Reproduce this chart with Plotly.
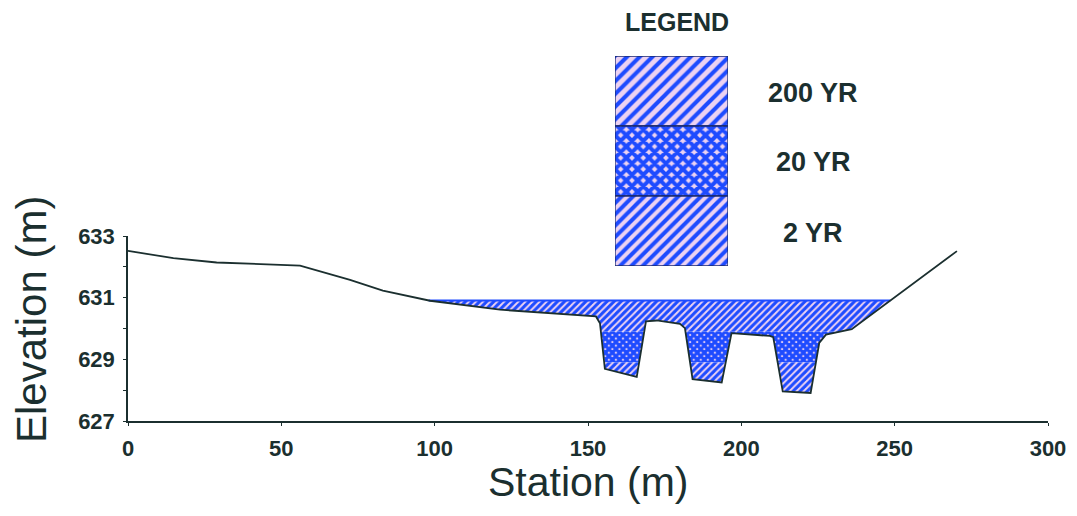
import numpy as np
import plotly.graph_objects as go

# ---------------- data ----------------
station = [0, 14.8, 28.9, 48.5, 56.1, 72.4, 83.1, 98.5, 121.3, 152.6, 153.9,
           155.5, 165.9, 168.9, 172.4, 180.0, 181.6, 184.1, 193.6, 196.8,
           209.3, 210.4, 213.5, 222.6, 225.4, 227.6, 236.0, 270.3]
elevation = [632.52, 632.28, 632.14, 632.08, 632.04, 631.58, 631.23, 630.90,
             630.61, 630.39, 630.17, 628.69, 628.43, 630.23, 630.26, 630.15,
             630.01, 628.36, 628.25, 629.85, 629.76, 629.72, 627.96, 627.91,
             629.53, 629.80, 629.98, 632.51]

flood_labels = ["200 YR", "20 YR", "2 YR"]
water_levels = [630.91, 629.90, 628.90]   # water surface elevation per flood

x_ticks = [0, 50, 100, 150, 200, 250, 300]
y_ticks = [627, 629, 631, 633]

# ---------------- styles ----------------
BLUE = "#1e4bff"
BG = "#ecd2f2"
INK = "#1b2f2f"
FONT = "Liberation Sans"

patterns_chart = [dict(shape="/", size=5, solidity=0.6),
                  dict(shape="x", size=5, solidity=0.85),
                  dict(shape="/", size=5, solidity=0.6)]
patterns_legend = [dict(shape="/", size=9, solidity=0.45),
                   dict(shape="x", size=8, solidity=0.75),
                   dict(shape="/", size=8, solidity=0.5)]


def refine(xs, ys, levels):
    """Insert the points where the ground crosses each level."""
    px, py = [xs[0]], [ys[0]]
    for i in range(len(xs) - 1):
        x0, y0, x1, y1 = xs[i], ys[i], xs[i + 1], ys[i + 1]
        cuts = []
        for lv in levels:
            if (y0 - lv) * (y1 - lv) < 0:
                t = (lv - y0) / (y1 - y0)
                cuts.append((t, x0 + t * (x1 - x0), lv))
        for _, cx, cy in sorted(cuts):
            px.append(cx)
            py.append(cy)
        px.append(x1)
        py.append(y1)
    return np.array(px), np.array(py)


def band_polygons(lo, hi):
    xs, ys = refine(station, elevation, [lo, hi])
    out_x, out_y = [], []
    run = []
    for x, y in zip(xs, ys):
        if y <= hi + 1e-9:
            run.append((x, y))
        else:
            if len(run) > 1:
                out_x += [p[0] for p in run] + [None]
                out_y += [min(max(p[1], lo), hi) for p in run] + [None]
            run = []
    if len(run) > 1:
        out_x += [p[0] for p in run] + [None]
        out_y += [min(max(p[1], lo), hi) for p in run] + [None]
    return out_x, out_y


fig = go.Figure()

bounds = water_levels + [min(elevation) - 1]
for k in range(3):
    bx, by = band_polygons(bounds[k + 1], bounds[k])
    fig.add_trace(go.Scatter(
        x=bx, y=by, mode="lines", fill="toself", line=dict(width=0),
        fillcolor=BG,
        fillpattern=dict(fgcolor=BLUE, bgcolor=BG, fgopacity=1, **patterns_chart[k]),
        hoverinfo="skip", showlegend=False))

# 200-yr water surface line
sx, sy = band_polygons(water_levels[1], water_levels[0])
wet = [v for v in sx if v is not None]
fig.add_trace(go.Scatter(x=[min(wet), max(wet)], y=[water_levels[0]] * 2,
                         mode="lines", line=dict(color=BLUE, width=2),
                         hoverinfo="skip", showlegend=False))

# ground profile
fig.add_trace(go.Scatter(x=station, y=elevation, mode="lines",
                         line=dict(color=INK, width=1.8),
                         hoverinfo="skip", showlegend=False))

# legend patches (stacked cells)
for k in range(3):
    fig.add_trace(go.Bar(
        x=[0], y=[1], base=[2 - k], width=[1], xaxis="x2", yaxis="y2",
        marker=dict(color=BG,
                    pattern=dict(fgcolor=BLUE, bgcolor=BG, fgopacity=1,
                                 **patterns_legend[k]),
                    line=dict(color="#1a2a70", width=1.3)),
        hoverinfo="skip", showlegend=False))

W, H = 1077, 516
axis_common = dict(showline=True, linecolor=INK, linewidth=1.5, showgrid=False,
                   zeroline=False, ticks="outside", ticklen=3, tickcolor=INK,
                   automargin=False,
                   tickfont=dict(family=FONT, size=22, color=INK, weight="bold"))

fig.update_layout(
    width=W, height=H, margin=dict(l=0, r=0, t=0, b=0, pad=0, autoexpand=False),
    paper_bgcolor="white", plot_bgcolor="white", barmode="overlay",
    xaxis=dict(domain=[128 / W, 1048 / W], range=[0, 300], tickvals=x_ticks,
               ticklabelstandoff=4, **axis_common),
    yaxis=dict(domain=[1 - 421 / H, 1 - 236 / H], range=[627, 633],
               tickvals=y_ticks, ticklabelstandoff=4,
               minor=dict(dtick=1, ticks="outside", ticklen=3, tickcolor=INK),
               **axis_common),
    xaxis2=dict(domain=[615 / W, 728 / W], range=[-0.5, 0.5], visible=False,
                anchor="y2", fixedrange=True, automargin=False),
    yaxis2=dict(domain=[1 - 266 / H, 1 - 56 / H], range=[0, 3], visible=False,
                anchor="x2", fixedrange=True, automargin=False),
)

ann = [
    dict(text="Elevation (m)", x=31 / W, y=1 - 320 / H, textangle=-90, size=42, bold=False),
    dict(text="Station (m)", x=588 / W, y=1 - 482 / H, textangle=0, size=41, bold=False),
    dict(text="LEGEND", x=677 / W, y=1 - 22 / H, textangle=0, size=25, bold=True),
    dict(text=flood_labels[0], x=813 / W, y=1 - 93 / H, textangle=0, size=27, bold=True),
    dict(text=flood_labels[1], x=813 / W, y=1 - 162 / H, textangle=0, size=27, bold=True),
    dict(text=flood_labels[2], x=813 / W, y=1 - 233 / H, textangle=0, size=27, bold=True),
]
for a in ann:
    fig.add_annotation(text=a["text"], x=a["x"], y=a["y"], xref="paper", yref="paper",
                       showarrow=False, textangle=a["textangle"],
                       xanchor="center", yanchor="middle",
                       font=dict(family=FONT, size=a["size"], color=INK,
                                 weight="bold" if a["bold"] else "normal"))

fig.write_html("out.html")
